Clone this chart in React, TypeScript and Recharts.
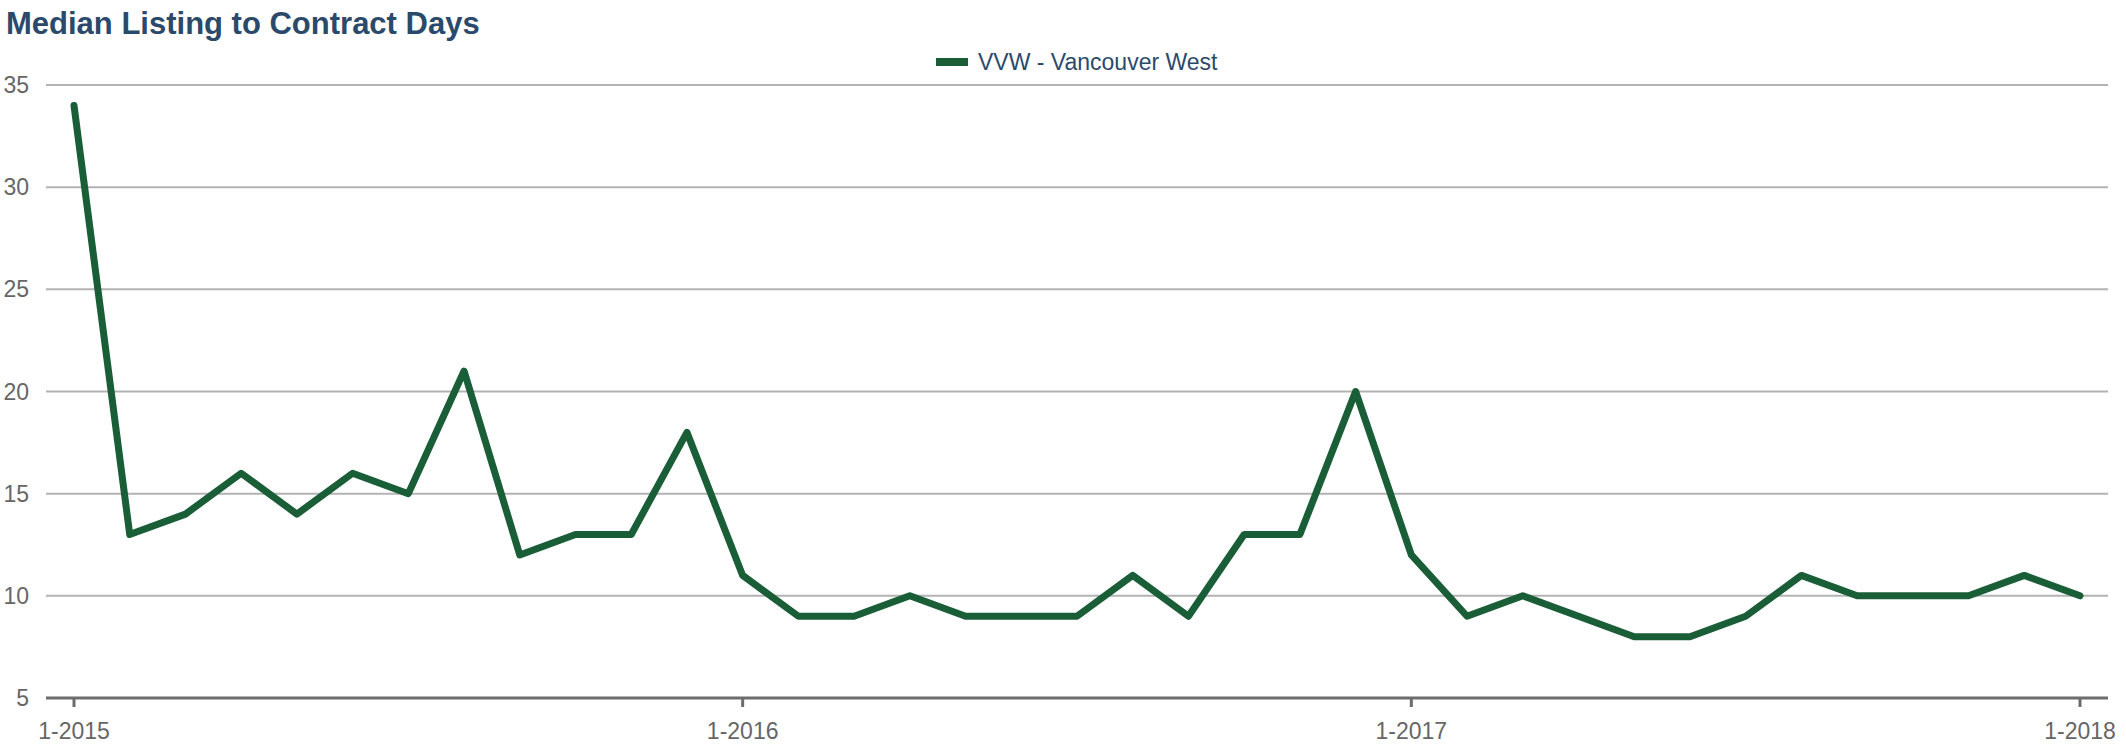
import { CartesianGrid, Line, LineChart, XAxis, YAxis } from 'recharts';

document.body.style.margin = '0';

const months = [
  '1-2015', '2-2015', '3-2015', '4-2015', '5-2015', '6-2015',
  '7-2015', '8-2015', '9-2015', '10-2015', '11-2015', '12-2015',
  '1-2016', '2-2016', '3-2016', '4-2016', '5-2016', '6-2016',
  '7-2016', '8-2016', '9-2016', '10-2016', '11-2016', '12-2016',
  '1-2017', '2-2017', '3-2017', '4-2017', '5-2017', '6-2017',
  '7-2017', '8-2017', '9-2017', '10-2017', '11-2017', '12-2017',
  '1-2018',
];

const vancouverWest = [
  34, 13, 14, 16, 14, 16, 15, 21, 12, 13, 13, 18,
  11, 9, 9, 10, 9, 9, 9, 11, 9, 13, 13, 20,
  12, 9, 10, 9, 8, 8, 9, 11, 10, 10, 10, 11,
  10,
];

const yTicks = [5, 10, 15, 20, 25, 30, 35];

const seriesName = 'VVW - Vancouver West';
const title = 'Median Listing to Contract Days';

const GREEN = '#1a5e38';
const NAVY = '#2b4a6b';
const AXIS = '#6d6d6d';
const LABEL = '#666666';

const data = months.map((m, i) => ({ month: m, vvw: vancouverWest[i] }));

export default function App() {
  return (
    <div
      style={{
        position: 'relative',
        width: 2126,
        height: 746,
        fontFamily: '"Liberation Sans", Arial, sans-serif',
        background: '#fff',
      }}
    >
      <div
        style={{
          position: 'absolute',
          left: 6,
          top: 8,
          fontSize: 31,
          lineHeight: '31px',
          fontWeight: 700,
          color: NAVY,
          whiteSpace: 'nowrap',
        }}
      >
        {title}
      </div>
      <div
        style={{
          position: 'absolute',
          left: 936,
          top: 48,
          height: 28,
          display: 'flex',
          alignItems: 'center',
          fontSize: 23,
          color: NAVY,
          whiteSpace: 'nowrap',
        }}
      >
        <span style={{ width: 32, height: 8, background: GREEN, marginRight: 10 }} />
        {seriesName}
      </div>
      <LineChart
        width={2126}
        height={746}
        data={data}
        margin={{ top: 85, right: 18, bottom: 0, left: 0 }}
      >
        <CartesianGrid vertical={false} stroke="#b3b3b3" strokeWidth={2} />
        <XAxis
          dataKey="month"
          interval={11}
          height={48}
          padding={{ left: 28, right: 28 }}
          axisLine={{ stroke: AXIS, strokeWidth: 3 }}
          tickLine={{ stroke: AXIS, strokeWidth: 3 }}
          tickSize={9}
          tickMargin={16}
          tick={{ fontSize: 23, fill: LABEL }}
        />
        <YAxis
          domain={[5, 35]}
          ticks={yTicks}
          width={46}
          axisLine={false}
          tickLine={false}
          tickSize={0}
          tickMargin={17}
          tick={{ fontSize: 23, fill: LABEL }}
        />
        <Line
          type="linear"
          dataKey="vvw"
          name={seriesName}
          stroke={GREEN}
          strokeWidth={7}
          strokeLinejoin="round"
          strokeLinecap="round"
          dot={false}
          isAnimationActive={false}
        />
      </LineChart>
    </div>
  );
}
